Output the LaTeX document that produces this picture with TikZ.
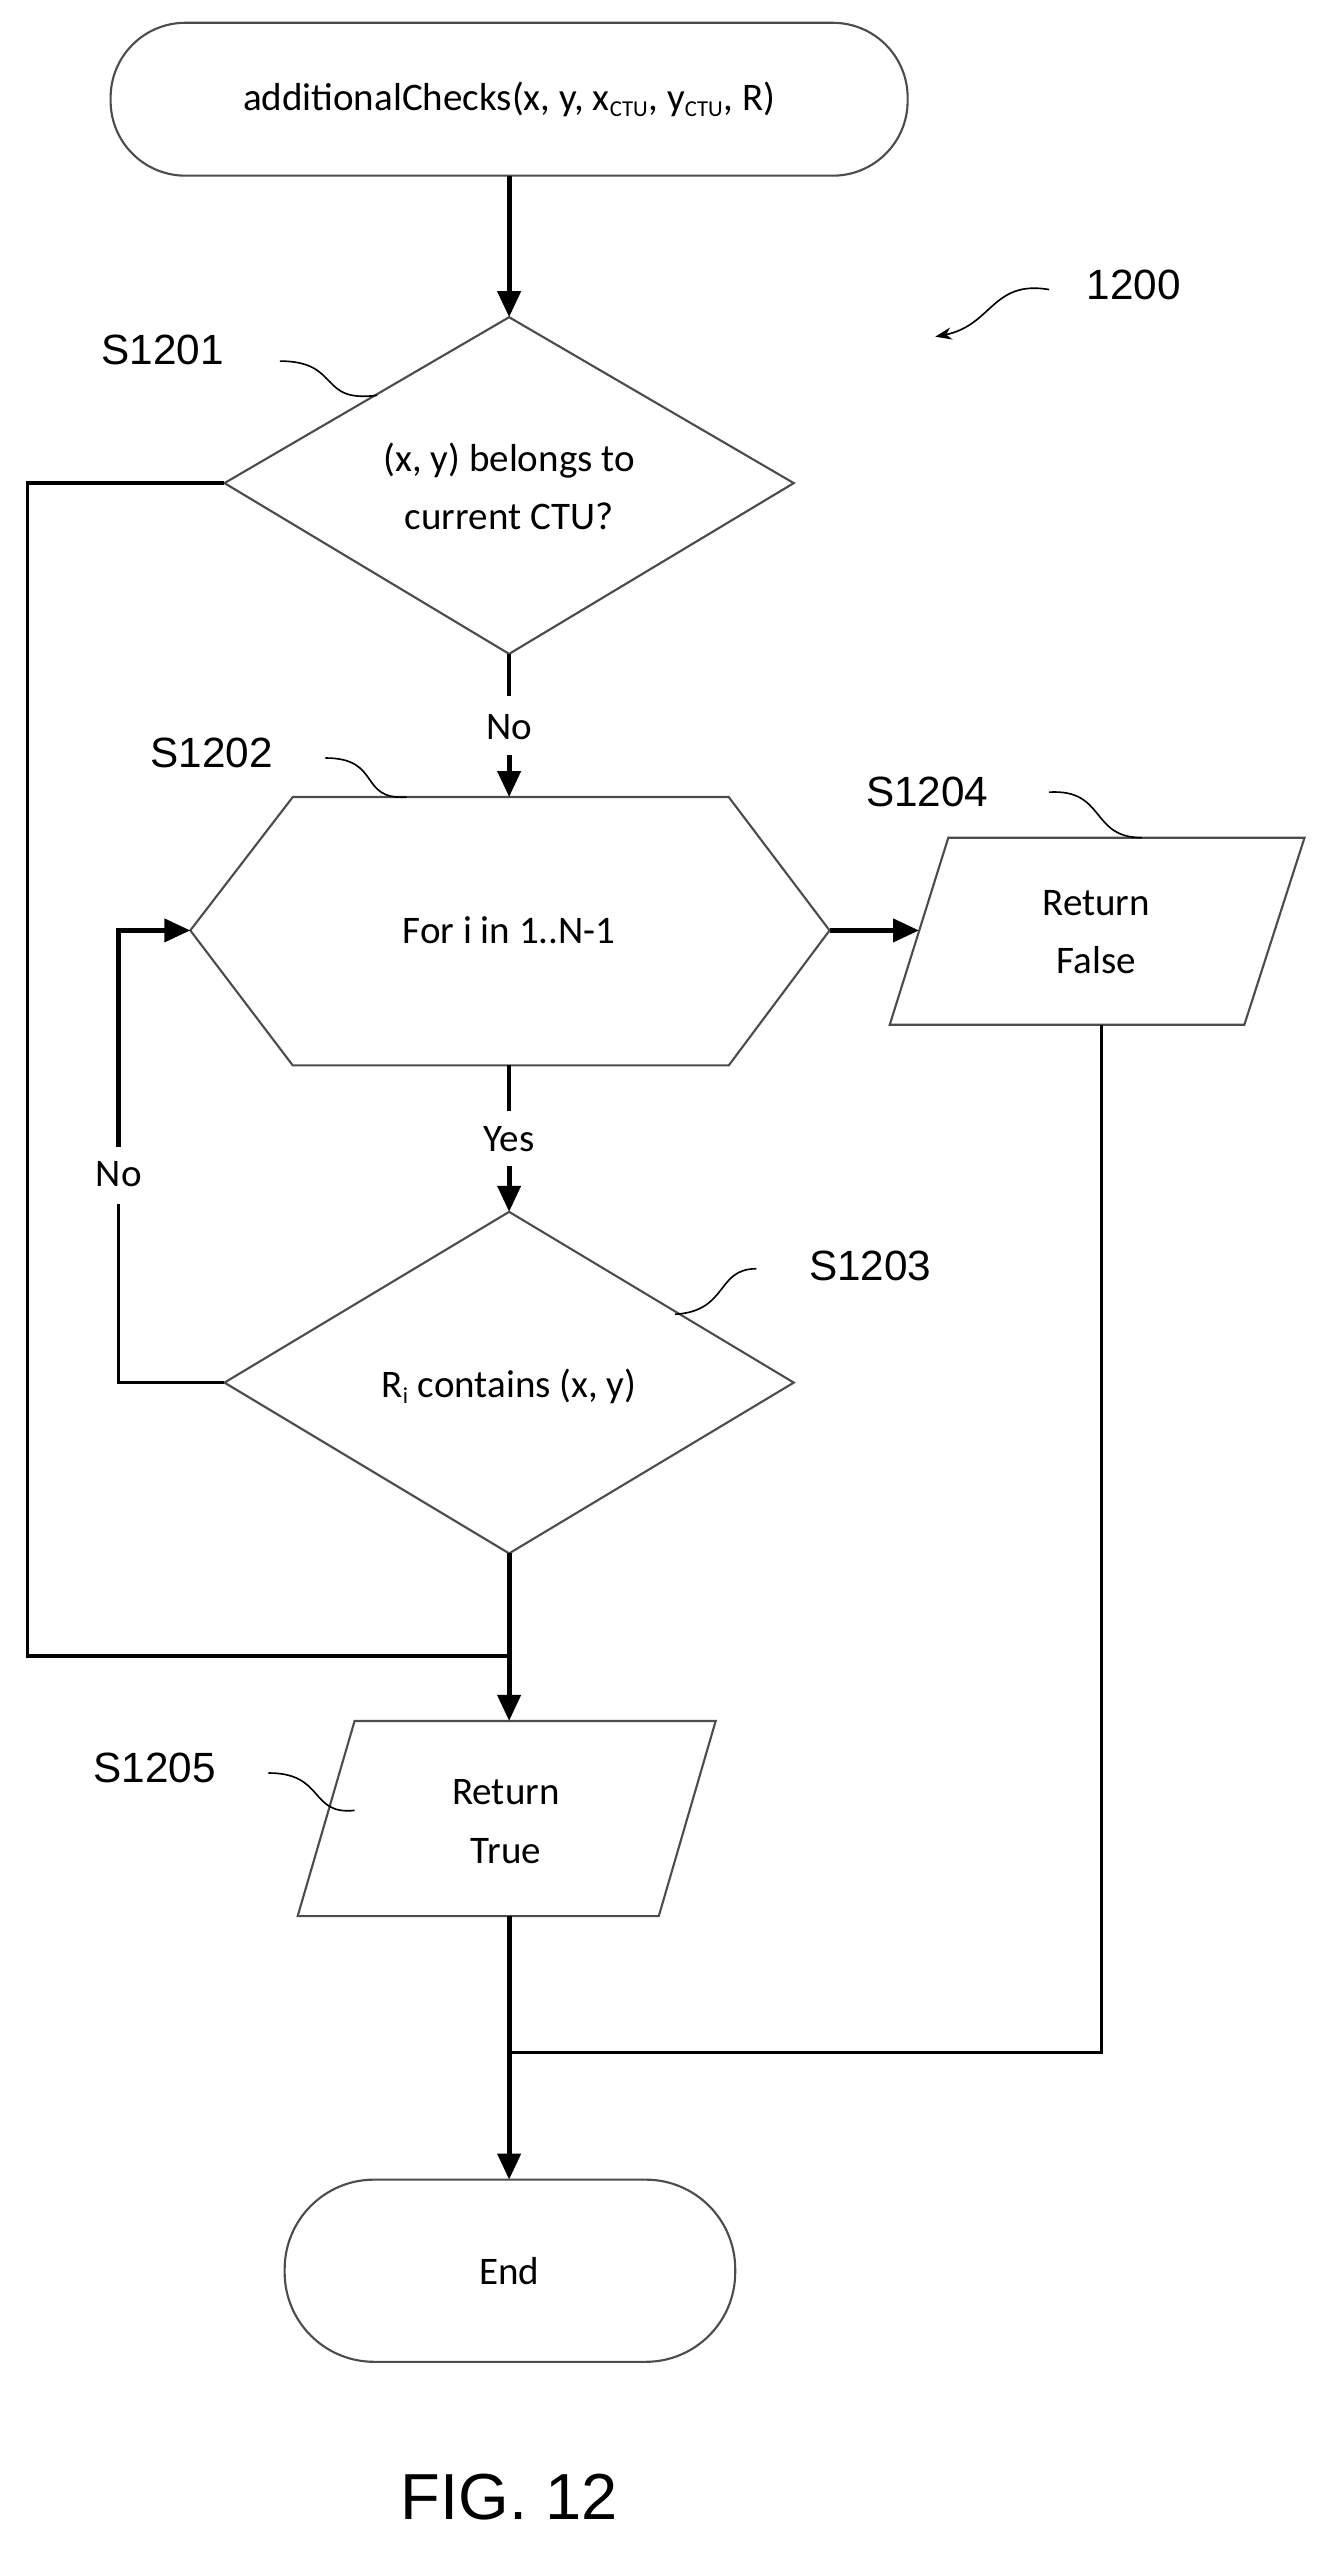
\documentclass[tikz,border=0pt]{standalone}
\usepackage{fontspec}
\setmainfont{Carlito}
\newfontfamily\arialf{Liberation Sans}
\usetikzlibrary{arrows.meta}
\newcommand{\mysub}[1]{\textsubscript{\fontsize{14}{14}\selectfont #1}}
\begin{document}
\begin{tikzpicture}[x=1pt,y=-1pt,
  shp/.style={draw=black!70,line width=1.3pt,fill=white},
  ln/.style={line width=2pt},
  arr/.style={line width=3pt,-{Triangle[length=16pt,width=14pt]}},
  txt/.style={font=\fontsize{24}{36}\selectfont,align=center},
  lab/.style={font=\arialf\fontsize{26}{30}\selectfont},
  sq/.style={line width=1pt}]
\useasboundingbox (0,0) rectangle (823,1580);
% start
\draw[shp,rounded corners=46pt] (68,14) rectangle (558,108);
\node[txt] (start) at (313,61) {additionalChecks(x, y, x\mysub{CTU}, y\mysub{CTU}, R)};
\coordinate (startb) at (313,108);
% diamond 1
\draw[shp] (313,195) coordinate (d1t) -- (488,297) coordinate (d1r) -- (313,402) coordinate (d1b) -- (138,297) coordinate (d1l) -- cycle;
\node[txt] (d1) at (313,299) {(x, y) belongs to\\current CTU?};
% hexagon
\draw[shp] (180,490) coordinate (hxt) -- (448,490) -- (510,572) coordinate (hxr) -- (448,655) -- (180,655) -- (117,572) coordinate (hxl) -- cycle;
\coordinate (hxtop) at (313,490); \coordinate (hxbot) at (313,655);
\node[txt] (hx) at (313,572) {For i in 1..N-1};
% S1204
\draw[shp] (583,515) -- (802,515) -- (765,630) -- (547,630) -- cycle;
\coordinate (p4l) at (565,572); \coordinate (p4b) at (677,630);
\node[txt] (p4) at (674,573) {Return\\False};
% diamond 2
\draw[shp] (313,745) coordinate (d2t) -- (488,850) coordinate (d2r) -- (313,955) coordinate (d2b) -- (138,850) coordinate (d2l) -- cycle;
\node[txt] (d2) at (313,852) {R\mysub{i} contains (x, y)};
% S1205
\draw[shp] (218,1058) -- (440,1058) -- (405,1178) -- (183,1178) -- cycle;
\coordinate (p5t) at (313,1058); \coordinate (p5b) at (313,1178);
\node[txt] (p5) at (311,1120) {Return\\True};
% end
\draw[shp,rounded corners=55pt] (175,1340) rectangle (452,1452);
\coordinate (endt) at (313,1340);
\node[txt] (end) at (313,1396) {End};
% connectors
\draw[arr] (startb) -- (d1t);
\draw[ln] (d1b) -- (313,428);
\node[txt,inner sep=1pt] (no1) at (313,447) {No};
\draw[arr] (313,464) -- (hxtop);
\draw[arr] (hxr) -- (p4l);
\draw[ln] (hxbot) -- (313,683);
\node[txt] (yes) at (313,700) {Yes};
\draw[arr] (313,717) -- (d2t);
\draw[ln] (d2l) -- (73,850) -- (73,740);
\node[txt] (no2) at (73,722) {No};
\draw[arr] (73,705) -- (73,572) -- (hxl);
\coordinate (j1) at (313,1018);
\draw[ln] (d1l) -- (17,297) -- (17,1018) -- (j1);
\draw[arr] (d2b) -- (p5t);
\coordinate (j2) at (313,1262);
\draw[ln] (p4b) -- (677,1262) -- (j2);
\draw[arr] (p5b) -- (endt);
% labels
\node[lab] (l1200) at (697,175) {1200};
\draw[sq,-{Stealth[length=10pt]}] (645,178) .. controls (610,172) and (610,200) .. (575,207);
\node[lab] (l1) at (100,215) {S1201};
\draw[sq] (172,222) .. controls (210,222) and (195,248) .. (232,243);
\node[lab] (l2) at (130,463) {S1202};
\draw[sq] (200,466) .. controls (235,466) and (220,492) .. (250,490);
\node[lab] (l4) at (570,487) {S1204};
\draw[sq] (645,487) .. controls (680,485) and (670,515) .. (702,515);
\node[lab] (l3) at (535,778) {S1203};
\draw[sq] (465,780) .. controls (440,780) and (448,806) .. (415,808);
\node[lab] (l5) at (95,1087) {S1205};
\draw[sq] (165,1090) .. controls (200,1090) and (190,1116) .. (218,1113);
\node[font=\arialf\fontsize{40}{46}\selectfont] (fig) at (313,1535) {FIG. 12};
\end{tikzpicture}
\end{document}
